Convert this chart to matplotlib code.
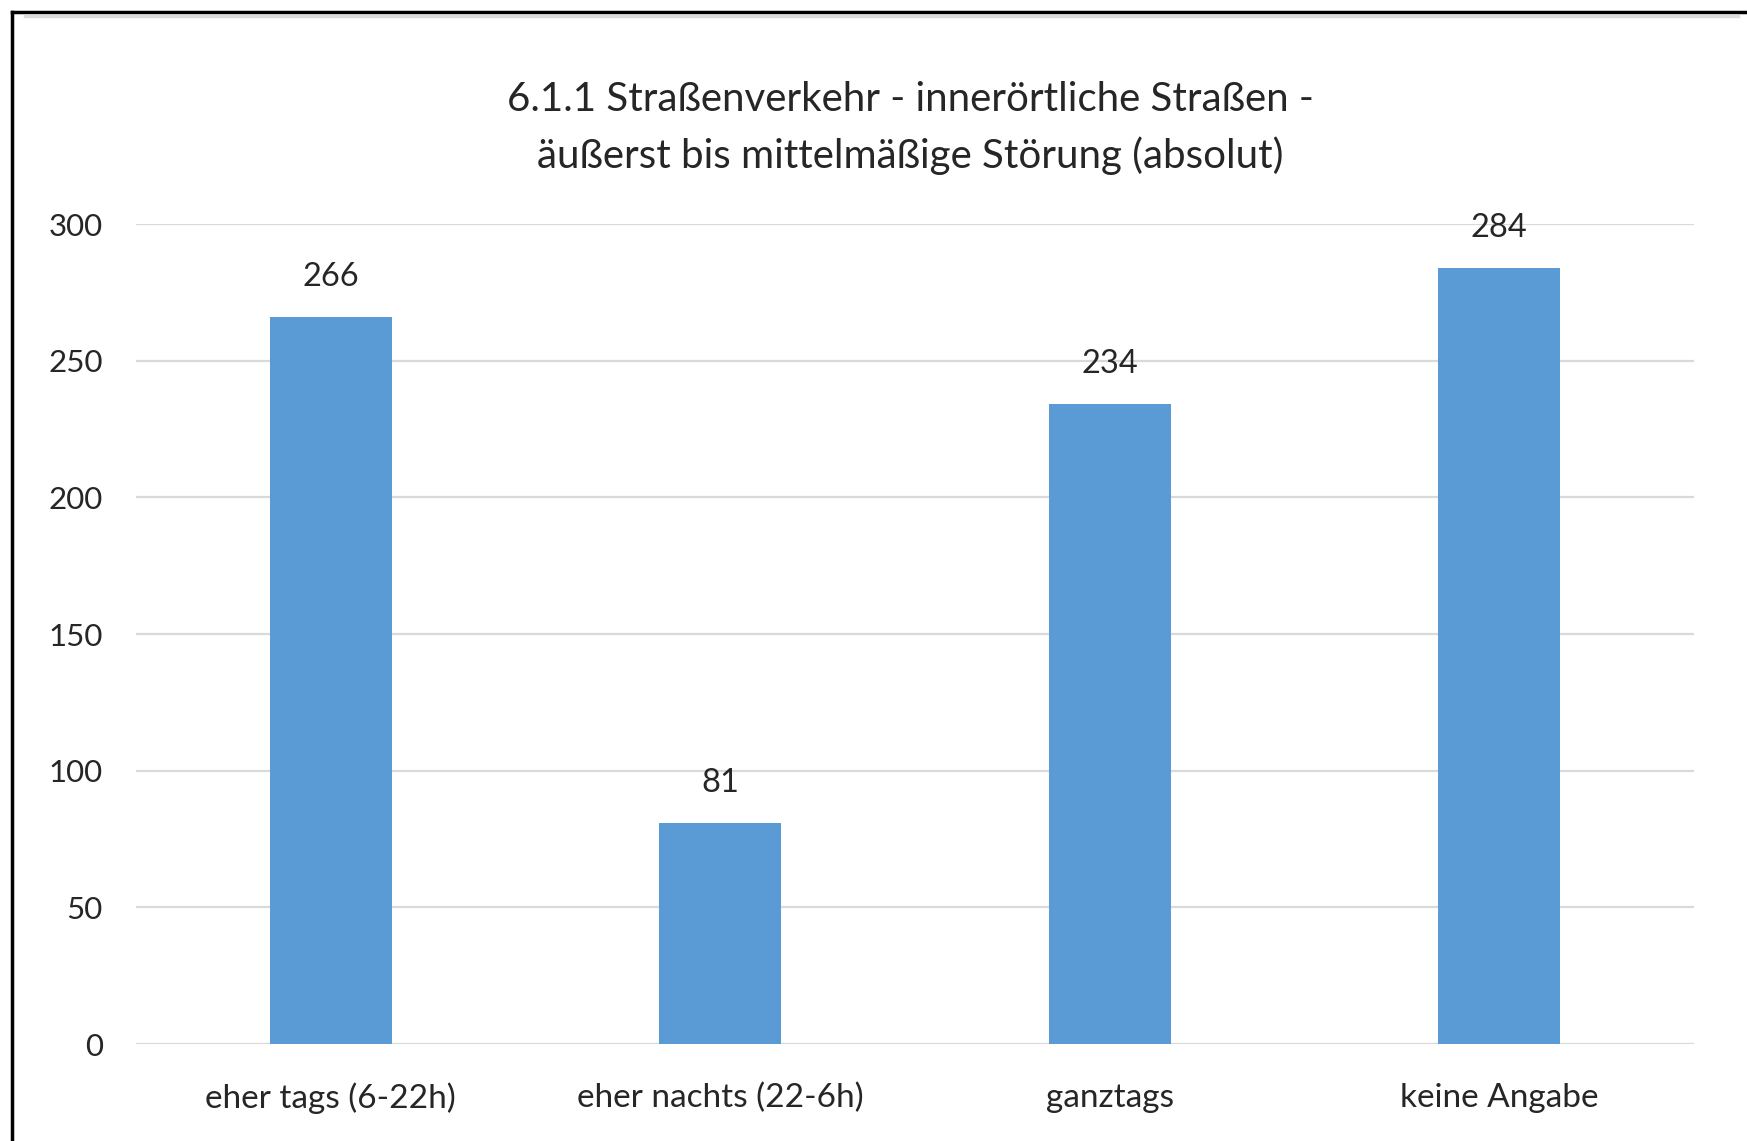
import matplotlib
matplotlib.use("Agg")
import matplotlib.pyplot as plt
from matplotlib.lines import Line2D

categories = ["eher tags (6-22h)", "eher nachts (22-6h)", "ganztags", "keine Angabe"]
values = [266, 81, 234, 284]
yticks = [0, 50, 100, 150, 200, 250, 300]
title = "6.1.1 Straßenverkehr - innerörtliche Straßen -\näußerst bis mittelmäßige Störung (absolut)"

plt.rcParams['font.family'] = ['Lato', 'DejaVu Sans']
text_color = "#262626"

W, H = 1747, 1141
fig = plt.figure(figsize=(W / 100, H / 100), dpi=100)
ax = fig.add_axes([136 / W, 1 - 1044 / H, (1694 - 136) / W, (1044 - 224) / H])

x = list(range(len(categories)))
bars = ax.bar(x, values, width=0.313, color="#5B9BD5", zorder=3)
ax.set_xlim(-0.5, len(categories) - 0.5)
ax.set_ylim(0, 300)
ax.set_yticks(yticks)
ax.set_yticklabels([str(t) for t in yticks])
ax.set_xticks(x)
ax.set_xticklabels(categories)
ax.tick_params(axis='y', length=0, pad=24, labelsize=22.5, colors=text_color)
ax.tick_params(axis='x', length=0, pad=28, labelsize=24, colors=text_color)
ax.grid(axis='y', color="#D9D9D9", linewidth=1.6, zorder=0)
for s in ax.spines.values():
    s.set_visible(False)

for xi, v in zip(x, values):
    ax.annotate(str(v), (xi, v), xytext=(0, 18), textcoords="offset points",
                ha="center", va="bottom", fontsize=23.5, color=text_color)

fig.text(910 / W, 1 - 128 / H, title, ha="center", va="center", fontsize=29,
         color=text_color, linespacing=1.55)

# frame edges of the screenshot
fig.add_artist(Line2D([12 / W, 12 / W], [0, 1 - 12 / H], color="black", linewidth=2.5,
                      transform=fig.transFigure))
fig.add_artist(Line2D([12 / W, 1], [1 - 12 / H, 1 - 12 / H], color="black", linewidth=2.5,
                      transform=fig.transFigure))
fig.add_artist(Line2D([25 / W, 1738 / W], [1 - 16 / H, 1 - 16 / H], color="#DDDDDD",
                      linewidth=2.5, transform=fig.transFigure))

fig.savefig("out.png", dpi=100, facecolor="white")
